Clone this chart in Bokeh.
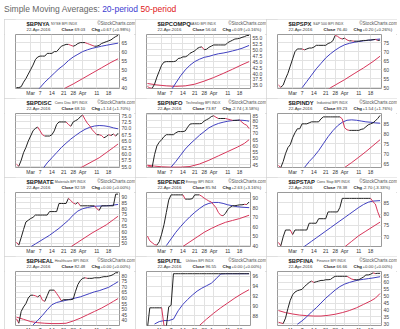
from bokeh.plotting import figure
from bokeh.layouts import column, row
from bokeh.models import FixedTicker, Div, Range1d, NumeralTickFormatter
from bokeh.core.properties import value
from bokeh.embed import file_html
from bokeh.resources import INLINE

FONT = "Liberation Sans"

# trading-day index 0 = 22-Feb-2016 ... 43 = 22-Apr-2016
days = list(range(44))
xtick_pos = [6, 10, 15, 20, 24, 28, 34, 39]
xtick_labels = ["Mar", "7", "14", "21", "28", "Apr", "11", "18"]

# ---------------- $BPNYA ----------------
nya_price = [40, 40, 40.5, 43, 45, 47.5, 50, 52.5, 55.5, 57, 57.5, 57.5, 57.5, 59, 59, 59, 60, 60, 61.5, 63,
             63.5, 64, 64, 63.5, 63, 63.5, 64.5, 65, 65, 65, 64.5, 64, 63.5, 63, 63, 63.5, 64.5, 65, 65.5, 66,
             66.5, 67.5, 68.36, 69.03]
nya_ma20_day = [9, 10, 12, 14, 16, 18, 20, 22, 24, 26, 28, 30, 32, 34, 36, 38, 40, 43]
nya_ma20 = [38.5, 40, 43, 45.5, 48, 50.5, 52.5, 55, 57, 58.5, 60, 61, 61.8, 62.4, 63, 63.5, 64, 64.7]
nya_ma50_day = [20, 21, 24, 28, 32, 36, 40, 43]
nya_ma50 = [39, 40, 42, 45, 48, 51, 54, 56]
nya_yticks = [40, 45, 50, 55, 60, 65]

# ---------------- $BPCOMPQ ----------------
compq_price = [34.5, 34, 33.8, 35.5, 38.5, 41, 43.5, 44.8, 45, 45, 45, 45, 45.2, 46.3, 46.5, 47, 47, 47.5, 48.5, 49,
               49.5, 50.5, 51, 51.2, 50, 50.2, 51, 51.5, 52, 52, 52, 52, 52, 52, 53, 53.5, 54, 54.5, 54.6, 54.8,
               55.2, 55.5, 55.95, 56.04]
compq_ma20_day = [10, 12, 14, 16, 18, 20, 22, 24, 26, 28, 30, 32, 34, 36, 38, 40, 43]
compq_ma20 = [33, 36, 39, 41.5, 43.5, 45, 46, 46.8, 47.2, 47.8, 48.3, 48.6, 49, 49.5, 50, 50.6, 51.8]
compq_ma50_day = [0, 4, 8, 12, 16, 20, 24, 28, 32, 36, 40, 43]
compq_ma50 = [35.8, 35.2, 34.8, 34.6, 34.8, 35.5, 36.8, 38.3, 40, 41.8, 43.7, 45]
compq_yticks = [35, 37.5, 40, 42.5, 45, 47.5, 50, 52.5, 55]

# ---------------- $BPSPX ----------------
spx_price = [51.5, 50.3, 51.5, 55, 58, 62, 66, 70, 71.5, 71.5, 71.5, 71, 71.5, 72, 72, 72.5, 73.5, 73.5, 73.5, 73.5,
             73.5, 74.5, 75, 76, 79, 78.5, 77.5, 77, 77.5, 76.5, 76, 76, 75.8, 75.8, 75.8, 76, 76.2, 76.2, 76.4, 76.4,
             76.6, 76.8, 76.2, 76.4]
spx_ma20_day = [10, 12, 14, 16, 18, 20, 22, 24, 26, 28, 30, 32, 34, 36, 38, 40, 43]
spx_ma20 = [50, 53.5, 57, 60.5, 63.5, 66.5, 68.8, 70.8, 72.5, 73.8, 74.6, 75.2, 75.6, 76, 76.3, 76.6, 77]
spx_ma50_day = [21, 22, 24, 28, 32, 36, 40, 43]
spx_ma50 = [49, 50, 51.5, 54.5, 57.8, 61, 64.5, 67.5]
spx_yticks = [50, 55, 60, 65, 70, 75]

# ---------------- $BPDISC ----------------
disc_price = [56, 55.2, 57.5, 60.5, 62.5, 65, 67, 69, 70, 70.5, 69, 67.5, 67, 67, 67, 67.5, 69, 71.5, 72.5, 72.5,
              72.5, 72.5, 71.5, 70.8, 72.5, 73, 73.5, 74.5, 75.2, 73.5, 72, 71, 69.5, 68.5, 67.5, 67.5, 67.2, 66.3,
              66.8, 67.5, 67.2, 67.8, 66.96, 68.1]
disc_ma20_day = [11, 13, 15, 17, 19, 21, 23, 25, 27, 29, 31, 33, 35, 37, 39, 41, 43]
disc_ma20 = [54, 56.5, 58.5, 60.5, 62.5, 64.2, 65.8, 67.2, 68.5, 69.6, 70.4, 70.9, 71.1, 71, 70.7, 70.2, 69.8]
disc_ma50_day = [27, 29, 32, 35, 38, 41, 43]
disc_ma50 = [54.5, 55.5, 57, 58.5, 60.5, 62.5, 63.9]
disc_yticks = [55, 57.5, 60, 62.5, 65, 67.5, 70, 72.5, 75]

# ---------------- $BPINFO ----------------
info_price = [44, 43.5, 43, 53, 60, 63, 65, 67.5, 69, 69, 69, 69, 70.5, 71.5, 71.5, 71.5, 72, 75, 77.5, 77.8,
              77.8, 77.8, 77.8, 78, 80, 81, 82, 83.5, 84.2, 83, 82, 82, 82, 82, 81.5, 81, 80.5, 80.5, 80.5, 80.8,
              79, 77.5, 76.61, 73.87]
info_ma20_day = [10, 12, 14, 16, 18, 20, 22, 24, 26, 28, 30, 32, 34, 36, 38, 40, 42, 43]
info_ma20 = [43, 47.5, 52.5, 57.5, 61.5, 65, 68.5, 71.5, 74.5, 76.5, 78, 79, 79.8, 80.3, 80.6, 80.6, 80.2, 79.8]
info_ma50_day = [0, 3, 6, 10, 14, 18, 22, 26, 30, 34, 38, 41, 43]
info_ma50 = [44.5, 43.8, 43.3, 43, 43, 43.5, 45.5, 48.5, 52, 55.5, 59, 62, 65]
info_yticks = [45, 50, 55, 60, 65, 70, 75, 80, 85]

# ---------------- $BPINDY ----------------
indy_price = [64, 63, 66, 70, 73, 74.5, 78, 80.5, 82.5, 82.5, 85, 85, 85, 85.5, 86, 86, 86, 86, 87.5, 88.5,
              88.5, 88.5, 88.5, 88.5, 88.5, 88.5, 88.5, 87.5, 83, 82, 81.7, 81.7, 81.7, 81.7, 81.7, 82.2, 82.5, 83.5,
              84.5, 85, 85.5, 86.5, 87.69, 89.23]
indy_ma20_day = [11, 13, 15, 17, 19, 21, 23, 25, 27, 29, 31, 33, 35, 37, 39, 41, 43]
indy_ma20 = [63, 66, 68.5, 71.5, 75, 78.5, 81.5, 84, 85.8, 86.8, 87, 86.8, 86.4, 86, 85.8, 85.5, 85.3]
indy_ma50_day = [28, 31, 34, 37, 40, 43]
indy_ma50 = [63, 65.5, 68.2, 71, 74, 77]
indy_yticks = [65, 70, 75, 80, 85]

# ---------------- $BPMATE ----------------
mate_price = [51, 48.5, 55, 62, 68.5, 70, 71.5, 72.5, 74.5, 74.5, 74.5, 74.5, 74.5, 74.5, 77.5, 77.5, 77.5, 77.5,
              84.5, 84.5, 84.5, 84.5, 89, 87, 85, 84, 85.5, 82.5, 82.5, 82.5, 82.5, 82.5, 82.5, 82.5, 80, 78.5,
              82.5, 82.5, 82.5, 82.5, 82.5, 82.5, 92.59, 92.59]
mate_ma20_day = [6, 8, 10, 12, 14, 16, 18, 20, 22, 24, 26, 28, 30, 32, 34, 36, 38, 40, 43]
mate_ma20 = [47, 49.5, 52, 54.5, 57, 60, 63, 66.5, 70, 74.5, 78, 80, 81, 81.8, 82.2, 82.4, 82.5, 82.8, 83.7]
mate_ma50_day = [23, 26, 29, 32, 35, 38, 41, 43]
mate_ma50 = [47, 51, 55, 59, 62.5, 66, 70.5, 73.5]
mate_yticks = [50, 55, 60, 65, 70, 75, 80, 85, 90]

# ---------------- $BPENER ----------------
ener_price = [50, 45, 43, 41, 40.5, 44, 52, 62, 75, 88, 93.5, 93.5, 93.5, 93.5, 93.5, 93.5, 89, 89, 89, 89.5,
              93.5, 93.5, 93.5, 92, 90, 88.5, 87, 86, 83, 80, 75, 72, 71.5, 74, 78, 80.5, 82, 82, 82.5, 83,
              83, 83.5, 83.31, 85.94]
ener_ma20_day = [8, 10, 12, 14, 16, 18, 20, 22, 24, 26, 28, 30, 32, 34, 36, 38, 40, 43]
ener_ma20 = [40, 47, 54, 60, 65.5, 70.5, 75, 79, 82.5, 84.5, 85.5, 85.5, 84.5, 83, 82, 81, 80.5, 80]
ener_ma50_day = [15, 18, 21, 24, 27, 30, 33, 36, 39, 43]
ener_ma50 = [39, 44, 49, 54, 58, 61.5, 64.5, 66.5, 68.5, 72]
ener_yticks = [40, 50, 60, 70, 80, 90]

# ---------------- $BPSTAP ----------------
stap_price = [67.5, 66, 70, 73, 73, 73, 71, 73, 73, 73, 73, 73, 73, 76, 76, 76, 76, 78, 78, 78,
              78, 81, 81, 81, 81, 81, 83, 87, 87, 87, 87, 87, 87, 87, 87, 87, 87, 87, 87, 87,
              85.5, 84.5, 81.08, 78.38]
stap_ma20_day = [10, 12, 14, 16, 18, 20, 22, 24, 26, 28, 30, 32, 34, 36, 38, 40, 43]
stap_ma20 = [65, 66.5, 68, 69.5, 71, 72.5, 74, 75.5, 77, 78.5, 80, 81.5, 83, 84.3, 85.3, 85.8, 86]
stap_ma50_day = [28, 31, 34, 37, 40, 43]
stap_ma50 = [65.5, 68, 70.5, 72.5, 74.5, 76.5]
stap_yticks = [70, 75, 80, 85]

# ---------------- $BPHEAL ----------------
heal_price = [41.5, 37.5, 48, 52, 55, 60, 62.5, 62.5, 62, 61, 62.5, 58, 57, 62, 67, 67, 67, 64, 61, 57.5,
              58.5, 58.5, 58.5, 58.5, 59, 66, 72, 75.5, 77.5, 78, 77.5, 77.5, 77.5, 78, 78, 78, 78.5, 79, 79, 79.5,
              80, 81, 82.48, 82.48]
heal_ma20_day = [7, 9, 11, 13, 15, 17, 19, 21, 23, 25, 27, 29, 31, 33, 35, 37, 39, 41, 43]
heal_ma20 = [36, 40, 44.5, 49.5, 54, 56, 57, 58, 59, 60, 61, 62.5, 64, 65.5, 66.5, 68, 69.5, 72, 74.5]
heal_ma50_day = [0, 3, 6, 9, 12, 15, 18, 21, 24, 27, 30, 33, 36, 39, 41, 43]
heal_ma50 = [43, 41, 39, 38, 37.5, 37.2, 37.2, 37.5, 39.5, 42, 45, 48, 51, 54.5, 57, 59.5]
heal_yticks = [40, 45, 50, 55, 60, 65, 70, 75, 80]

# ---------------- $BPUTIL ----------------
util_price = [85.5, 89.6, 89.6, 89.6, 89.6, 89.6, 89.6, 86, 85.8, 89.8, 90.1, 96.55, 96.55, 96.55, 96.55, 96.55,
              96.55, 96.55, 96.55, 96.55, 96.55, 96.55, 96.55, 96.55, 96.55, 96.55, 96.55, 96.55, 96.55, 96.55,
              96.55, 96.55, 96.55, 96.55, 96.55, 96.55, 96.55, 96.55, 96.55, 96.55, 96.55, 96.55, 96.55, 96.55]
util_ma20_day = [3, 5, 7, 9, 11, 13, 15, 17, 19, 21, 23, 25, 27, 29, 31, 33, 36, 40, 43]
util_ma20 = [86.3, 86.8, 87, 87, 87.3, 89, 90.3, 91.3, 92.2, 93, 93.6, 94.1, 94.6, 95.5, 96.5, 96.55, 96.55,
             96.55, 96.55]
util_ma50_day = [22, 25, 28, 31, 34, 37, 40, 43]
util_ma50 = [86, 87.3, 88.5, 89.6, 90.6, 91.6, 92.5, 93.3]
util_yticks = [88, 90, 92, 94, 96]

# ---------------- $BPFINA ----------------
fina_price = [31, 30.5, 30, 34, 41, 47, 51, 53, 54, 54.5, 55, 57, 58.5, 60, 61, 60, 60.5, 61, 61.5, 61.5,
              62, 62, 62.2, 63.5, 64.5, 64.5, 64.5, 64.5, 64.5, 64.5, 63.5, 62.5, 62, 62, 62, 63, 64, 65.5, 65.5, 66,
              67, 66.5, 66.66, 66.66]
fina_ma20_day = [8, 10, 12, 14, 16, 18, 20, 22, 24, 26, 28, 30, 32, 34, 36, 38, 40, 43]
fina_ma20 = [29.5, 32, 35, 38.5, 41.5, 45, 48.5, 51.5, 54.5, 57, 58.8, 60, 61, 61.8, 62.3, 62.8, 63.3, 64.2]
fina_ma50_day = [0, 3, 6, 9, 12, 15, 18, 21, 24, 27, 30, 33, 36, 39, 41, 43]
fina_ma50 = [39.5, 38, 37, 36.2, 35.8, 35.5, 35.5, 36, 36.8, 38, 39.5, 41.5, 44, 46.5, 48.5, 52]
fina_yticks = [30, 35, 40, 45, 50, 55, 60, 65]

panels = [
    ("$BPNYA", "NYSE BPI INDX", "69.03", "+0.67 (+0.98%)", 1, nya_price, nya_ma20_day, nya_ma20, nya_ma50_day, nya_ma50, nya_yticks, (39.5, 69.5), "0"),
    ("$BPCOMPQ", "NASD BPI INDX", "56.04", "+0.09 (+0.16%)", 1, compq_price, compq_ma20_day, compq_ma20, compq_ma50_day, compq_ma50, compq_yticks, (33.7, 56.4), "0.0"),
    ("$BPSPX", "S&P 500 BPI INDX", "76.40", "+0.20 (+0.26%)", 1, spx_price, spx_ma20_day, spx_ma20, spx_ma50_day, spx_ma50, spx_yticks, (49.6, 79.5), "0"),
    ("$BPDISC", "Cons Disc BPI INDX", "68.10", "+1.14 (+1.70%)", 1, disc_price, disc_ma20_day, disc_ma20, disc_ma50_day, disc_ma50, disc_yticks, (54.7, 75.8), "0.0"),
    ("$BPINFO", "Technology BPI INDX", "73.87", "-2.74 (-3.58%)", -1, info_price, info_ma20_day, info_ma20, info_ma50_day, info_ma50, info_yticks, (42.7, 86), "0"),
    ("$BPINDY", "Industrial BPI INDX", "89.23", "+1.54 (+1.76%)", 1, indy_price, indy_ma20_day, indy_ma20, indy_ma50_day, indy_ma50, indy_yticks, (63, 90.2), "0"),
    ("$BPMATE", "Materials BPI INDX", "92.59", "+0.00 (+0.00%)", 0, mate_price, mate_ma20_day, mate_ma20, mate_ma50_day, mate_ma50, mate_yticks, (47.3, 94), "0"),
    ("$BPENER", "Energy BPI INDX", "85.94", "+2.63 (+3.16%)", 1, ener_price, ener_ma20_day, ener_ma20, ener_ma50_day, ener_ma50, ener_yticks, (39, 96), "0"),
    ("$BPSTAP", "Cons Stap BPI INDX", "78.38", "-2.70 (-3.33%)", -1, stap_price, stap_ma20_day, stap_ma20, stap_ma50_day, stap_ma50, stap_yticks, (65.7, 89.6), "0"),
    ("$BPHEAL", "Healthcare BPI INDX", "82.48", "+0.00 (+0.00%)", 0, heal_price, heal_ma20_day, heal_ma20, heal_ma50_day, heal_ma50, heal_yticks, (35.5, 83.6), "0"),
    ("$BPUTIL", "Utilities BPI INDX", "96.55", "+0.00 (+0.00%)", 0, util_price, util_ma20_day, util_ma20, util_ma50_day, util_ma50, util_yticks, (86, 97), "0"),
    ("$BPFINA", "Finance BPI INDX", "66.66", "+0.00 (+0.00%)", 0, fina_price, fina_ma20_day, fina_ma20, fina_ma50_day, fina_ma50, fina_yticks, (28.6, 68), "0"),
]

BLACK = "#222222"
RED = "#d6365a"
BLUE = "#4040c0"
PANEL_W = 131
HEAD_H = 15
FRAME_H = 54


def make_header(ticker, name, close, chg, direction):
    h = figure(frame_width=PANEL_W, frame_height=HEAD_H, min_border=0,
               x_range=Range1d(0, PANEL_W), y_range=Range1d(0, HEAD_H),
               x_axis_location=None, y_axis_location=None,
               toolbar_location=None, tools="", output_backend="svg")
    h.grid.visible = False
    h.outline_line_color = None

    def t(x, y, text, size, bold=False, color="#222222", align="left"):
        h.text(x=[x], y=[y], text=[text], text_font=value(FONT), text_font_size=size,
               text_font_style="bold" if bold else "normal", text_color=color,
               text_align=align, text_baseline="middle")

    y1, y2 = 10.8, 5.4
    t(11, y1, ticker, "5.8px", bold=True)
    t(11 + len(ticker) * 3.75 + 2, y1, name, "3.6px", color="#444444")
    t(120, y1, "\u00a9StockCharts.com", "4.6px", color="#555555", align="right")
    t(11, y2, "22-Apr-2016", "4.3px", color="#333333")
    t(46, y2, "Close", "4.4px", bold=True)
    t(59, y2, close, "4.3px", color="#333333")
    t(76, y2, "Chg", "4.4px", bold=True)
    t(85, y2, chg, "4.3px", color="#333333")
    mark = {1: ("\u25b2", "#22aa22"), -1: ("\u25bc", "#dd2222"), 0: ("=", "#333333")}[direction]
    t(121.5, y2, mark[0], "3.6px", color=mark[1])
    return h


def make_chart(price, d20, m20, d50, m50, yticks, yr, fmt):
    p = figure(frame_width=104, frame_height=FRAME_H, min_border_left=11, min_border_right=16,
               min_border_top=0, min_border_bottom=7,
               x_range=Range1d(-0.4, 43.6), y_range=Range1d(*yr), y_axis_location="right",
               toolbar_location=None, tools="", output_backend="svg",
               background_fill_color="white", border_fill_color="white")
    p.outline_line_color = "#9a9a9a"

    p.xaxis.ticker = FixedTicker(ticks=xtick_pos)
    p.xaxis.major_label_overrides = {t: l for t, l in zip(xtick_pos, xtick_labels)}
    p.yaxis.ticker = FixedTicker(ticks=yticks)
    p.yaxis.formatter = NumeralTickFormatter(format=fmt)
    for ax in (p.xaxis[0], p.yaxis[0]):
        ax.axis_line_color = None
        ax.major_tick_line_color = None
        ax.minor_tick_line_color = None
        ax.major_tick_out = 0
        ax.major_tick_in = 0
        ax.major_label_standoff = 2
        ax.major_label_text_font = FONT
        ax.major_label_text_font_size = "5px"
        ax.major_label_text_color = "#444444"
    p.xaxis.major_label_standoff = 1
    p.xaxis.major_label_text_color = "#333333"
    p.xgrid.grid_line_color = "#e2e2e2"
    p.ygrid.grid_line_color = "#e2e2e2"

    p.line(d50, m50, line_color=RED, line_width=1)
    p.line(d20, m20, line_color=BLUE, line_width=1)
    x0 = days[:-1]
    x1 = days[1:]
    y0 = price[:-1]
    y1 = price[1:]
    cols = [RED if b < a else BLACK for a, b in zip(y0, y1)]
    p.segment(x0, y0, x1, y1, line_color=cols, line_width=1)
    return p


cells = []
for (ticker, name, close, chg, direction, price, d20, m20, d50, m50, yticks, yr, fmt) in panels:
    head = make_header(ticker, name, close, chg, direction)
    chart = make_chart(price, d20, m20, d50, m50, yticks, yr, fmt)
    cells.append(column(head, chart, spacing=0,
                        styles={"outline": "1px solid #d4d4d4", "outline-offset": "-1px"}))

title = Div(text='<div style="font-family:\'Liberation Sans\',Arial,sans-serif;font-size:8.5px;color:#666;'
                 'padding:3px 0 0 4px;white-space:nowrap;">Simple Moving Averages: '
                 '<span style="color:#3b3bd0">20-period</span> '
                 '<span style="color:#e02020">50-period</span></div>',
            width=400, height=19, margin=(0, 0, 0, 0))

rows = [row(cells[i * 3:(i + 1) * 3], spacing=0, margin=(0, 0, 0, 4)) for i in range(4)]
bottom = Div(text='<div style="border-top:1px solid #bbb;width:400px;"></div>', width=400, height=3,
             margin=(2, 0, 0, 0))
layout = column([title] + rows + [bottom], spacing=0)

open("out.html", "w").write(file_html(layout, INLINE))
